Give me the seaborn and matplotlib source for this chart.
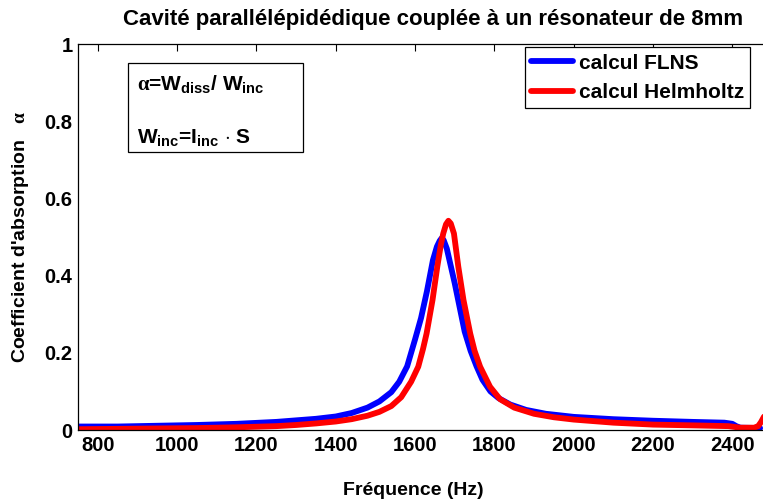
import numpy as np
import pandas as pd
import seaborn as sns
import matplotlib.pyplot as plt
from matplotlib.patches import Rectangle

# ---- data ----
freq_flns = [750, 850, 950, 1050, 1150, 1250, 1300, 1350, 1400, 1440, 1480, 1510,
             1540, 1560, 1580, 1600, 1615, 1630, 1645, 1655, 1662, 1667, 1672, 1680,
             1690, 1700, 1712, 1725, 1740, 1755, 1770, 1790, 1810, 1840, 1880, 1930,
             2000, 2100, 2200, 2300, 2380, 2400, 2410, 2420, 2470]
alpha_flns = [0.009, 0.009, 0.011, 0.013, 0.016, 0.021, 0.025, 0.029, 0.035, 0.044,
              0.058, 0.074, 0.098, 0.125, 0.165, 0.235, 0.29, 0.36, 0.44, 0.475,
              0.49, 0.497, 0.492, 0.47, 0.425, 0.38, 0.32, 0.255, 0.205, 0.165,
              0.13, 0.10, 0.083, 0.066, 0.052, 0.042, 0.034, 0.028, 0.024, 0.021,
              0.019, 0.016, 0.010, 0.006, 0.005]

freq_helm = [750, 850, 950, 1050, 1150, 1250, 1300, 1350, 1400, 1440, 1480, 1510,
             1540, 1565, 1590, 1608, 1620, 1629, 1644, 1656, 1665, 1671, 1678, 1684,
             1690, 1698, 1709, 1722, 1739, 1750, 1764, 1789, 1814, 1850, 1900, 1950,
             2000, 2100, 2200, 2300, 2390, 2420, 2455, 2465, 2472, 2480]
alpha_helm = [0.002, 0.003, 0.004, 0.005, 0.007, 0.010, 0.013, 0.017, 0.022, 0.028,
              0.037, 0.047, 0.062, 0.085, 0.125, 0.164, 0.21, 0.25, 0.337, 0.423,
              0.48, 0.509, 0.533, 0.542, 0.535, 0.509, 0.423, 0.337, 0.25, 0.205,
              0.164, 0.112, 0.080, 0.058, 0.042, 0.033, 0.027, 0.019, 0.014, 0.012,
              0.010, 0.006, 0.006, 0.010, 0.020, 0.035]

series_names = ["calcul FLNS", "calcul Helmholtz"]
xticks = [800, 1000, 1200, 1400, 1600, 1800, 2000, 2200, 2400]
yticks = [0, 0.2, 0.4, 0.6, 0.8, 1]
ytick_labels = ["0", "0.2", "0.4", "0.6", "0.8", "1"]

df = pd.concat([
    pd.DataFrame({"f": freq_flns, "a": alpha_flns, "s": series_names[0]}),
    pd.DataFrame({"f": freq_helm, "a": alpha_helm, "s": series_names[1]}),
])

sns.set_theme(style="white")
FONT = ['Liberation Sans', 'DejaVu Sans']
plt.rcParams['font.family'] = FONT
plt.rcParams['font.weight'] = 'bold'
plt.rcParams['text.color'] = 'black'
plt.rcParams['axes.labelcolor'] = 'black'
plt.rcParams['xtick.color'] = 'black'
plt.rcParams['ytick.color'] = 'black'
plt.rcParams['mathtext.fontset'] = 'custom'
plt.rcParams['mathtext.rm'] = 'Liberation Serif'
plt.rcParams['mathtext.bf'] = 'Liberation Sans:bold'
plt.rcParams['mathtext.it'] = 'Liberation Serif:italic'

fig = plt.figure(figsize=(7.63, 5.01), dpi=100)
ax = fig.add_axes([78 / 763, 71 / 501, 694 / 763, 386 / 501])

sns.lineplot(data=df, x="f", y="a", hue="s", palette={series_names[0]: "#0000ff",
             series_names[1]: "#ff0000"}, linewidth=4.2, ax=ax, sort=False,
             estimator=None)

ax.set_xlim(750, 2500)
ax.set_ylim(0, 1)
ax.set_xticks(xticks)
ax.set_xticklabels([str(t) for t in xticks], fontsize=14.5, fontweight='bold',
                   color='black')
ax.set_yticks(yticks)
ax.set_yticklabels(ytick_labels, fontsize=14.5, fontweight='bold', color='black')
ax.tick_params(direction='in', length=5, width=0.8, top=True, right=True,
               color='black', pad=4)
for sp in ax.spines.values():
    sp.set_color('black')
    sp.set_linewidth(0.9)

ax.set_xlabel("Fréquence (Hz)", fontsize=14, fontweight='bold', labelpad=20,
              x=(413 - 78) / 694, color='black')
ax.set_ylabel(r"Coefficient d'absorption   $\mathrm{\alpha}$", fontsize=14,
              fontweight='bold', labelpad=10, color='black')
ax.set_title("Cavité parallélépidédique couplée à un résonateur de 8mm",
             fontsize=16, fontweight='bold', x=(433 - 78) / 694, pad=14,
             color='black')

leg = ax.legend(loc='upper right', bbox_to_anchor=(0.969, 0.991), borderaxespad=0,
                frameon=True, fancybox=False, framealpha=1,
                edgecolor='black', handlelength=2.0, handletextpad=0.3,
                borderpad=0.3, labelspacing=0.5, prop={'weight': 'bold', 'size': 15})
leg.get_frame().set_linewidth(0.9)
for line in leg.get_lines():
    line.set_linewidth(4.2)
for t in leg.get_texts():
    t.set_color('black')

# annotation box
ax.add_patch(Rectangle((0.0716, 0.721), 0.324 - 0.0716, 0.950 - 0.721,
                       transform=ax.transAxes, fill=True, facecolor='white',
                       edgecolor='black', linewidth=0.9, zorder=5))
ax.text(0.0845, 0.881, r"$\mathrm{\alpha}$=W$_{\mathbf{diss}}$/ W$_{\mathbf{inc}}$",
        transform=ax.transAxes, fontsize=15, fontweight='bold', va='baseline',
        ha='left', zorder=6, color='black')
ax.text(0.0845, 0.743, r"W$_{\mathbf{inc}}$=I$_{\mathbf{inc}}$ $\cdot$ S",
        transform=ax.transAxes, fontsize=15, fontweight='bold', va='baseline',
        ha='left', zorder=6, color='black')

fig.savefig("out.png", dpi=100)
